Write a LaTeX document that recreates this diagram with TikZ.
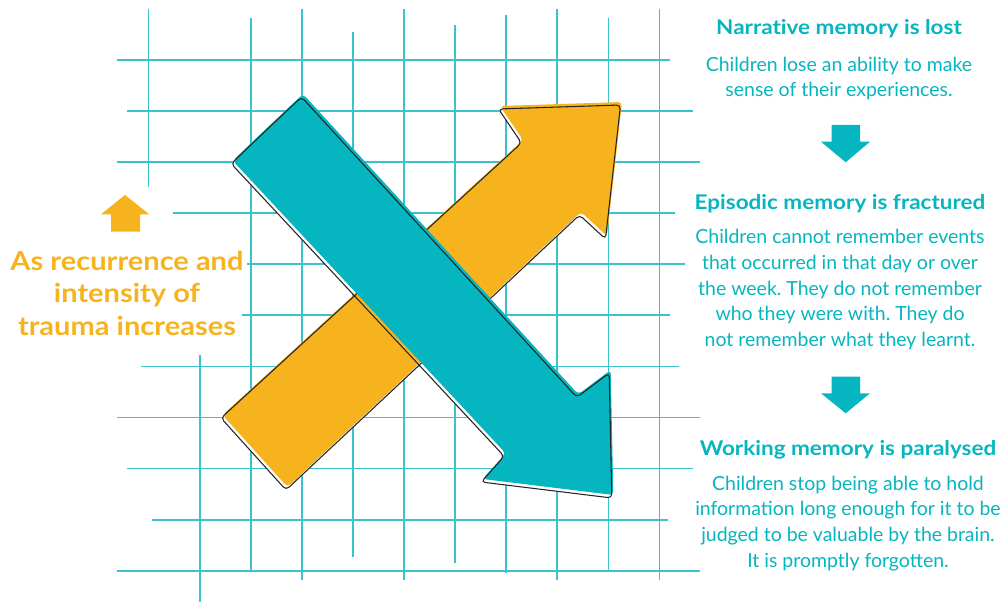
\documentclass[tikz,border=0pt]{standalone}
\usepackage{fontspec}
\setmainfont{Lato}
\newfontfamily\widefont{Lato}[FakeStretch=1.11, Ligatures=NoCommon]
\usetikzlibrary{positioning}
\definecolor{memteal}{HTML}{05B5BF}
\definecolor{gridteal}{HTML}{3CC2CA}
\definecolor{traumaorange}{HTML}{F7B31E}
\newcommand{\risepath}{(255,451) -- (287.5,487) -- (581,212) -- (607,236) -- (622,102) -- (500,106) -- (523,140) -- (222.5,415) -- cycle}
\newcommand{\fallpath}{(268,127) -- (303,94) -- (578.3,394.3) -- (610.7,370) -- (613.3,495) -- (482.7,479) -- (505.7,453.3) -- (232.7,160.7) -- cycle}
\frenchspacing

\begin{document}
\begin{tikzpicture}[x=0.75pt, y=-0.75pt,
    gridline/.style={gridteal, line width=1.1pt},
    sketchline/.style={black!85, line width=0.8pt, rounded corners=3pt, shift={(-1.5,3)}},
    gapfill/.style={white, rounded corners=3pt, shift={(-1.5,3)}},
    titletext/.style={memteal, font=\widefont\bfseries\fontsize{15.2}{18}\selectfont, inner sep=0pt, anchor=base},
    bodytext/.style={memteal, align=center, font=\fontsize{14.6}{19.3}\selectfont, inner sep=0pt, anchor=north}]
    \useasboundingbox (0,0) rectangle (1008,602);

    % grid
    \foreach \x/\ya/\yb in {148.6/9/187, 251/18/570, 302/9/580, 353/32/557, 404/9/580, 455/25/563,
            506/15/573, 557/9/580, 608.6/18/570, 659.5/9/580, 200/355/602}
        \draw[gridline] (\x,\ya) -- (\x,\yb);
    \foreach \y/\xa/\xb in {60/117/670, 111/127/693, 162/117/700, 213/173/675, 264/247/685, 315/242/670,
            366.7/141/679, 417.7/117/700, 468.7/127/693, 520/152/668, 571/117/700}
        \draw[gridline] (\xa,\y) -- (\xb,\y);

    % the two big arrows
    \fill[gapfill] \fallpath;
    \fill[gapfill] \risepath;
    \fill[traumaorange, rounded corners=3pt] \risepath;
    \draw[sketchline] \risepath;
    \fill[memteal, rounded corners=3pt] \fallpath;
    \draw[sketchline] \fallpath;

    % left side
    \fill[traumaorange] (125,195) -- (149.3,214.3) -- (140,214.3) -- (140,231.7) -- (111,231.7) -- (111,214.3) -- (101,214.3) -- cycle;
    \node[traumaorange, align=center, font=\widefont\bfseries\fontsize{19.6}{24.4}\selectfont, inner sep=0pt, anchor=north]
        (trauma) at (127,250.5) {As recurrence and\\intensity of\\trauma increases};

    % right side
    \node[titletext] (narrtitle) at (839,35) {Narrative memory is lost};
    \node[bodytext] (narrbody) at (839,56.5) {Children lose an ability to make\\sense of their experiences.};
    \fill[memteal] (831.7,125) -- (860,125) -- (860,141.7) -- (870,141.7) -- (845.7,162.3) -- (821,141.7) -- (831.7,141.7) -- cycle;

    \node[titletext] (episotitle) at (840,209.3) {Episodic memory is fractured};
    \node[bodytext] (episobody) at (840,229) {Children cannot remember events\\that occurred in that day or over\\the week. They do not remember\\who they were with. They do\\not remember what they learnt.};
    \fill[memteal] (831.7,376.7) -- (860,376.7) -- (860,393.3) -- (870,393.3) -- (845.7,413.3) -- (821,393.3) -- (831.7,393.3) -- cycle;

    \node[titletext] (worktitle) at (848,455.7) {Working memory is paralysed};
    \node[bodytext] (workbody) at (848,475.6) {Children stop being able to hold\\information long enough for it to be\\judged to be valuable by the brain.\\It is promptly forgotten.};
\end{tikzpicture}
\end{document}
